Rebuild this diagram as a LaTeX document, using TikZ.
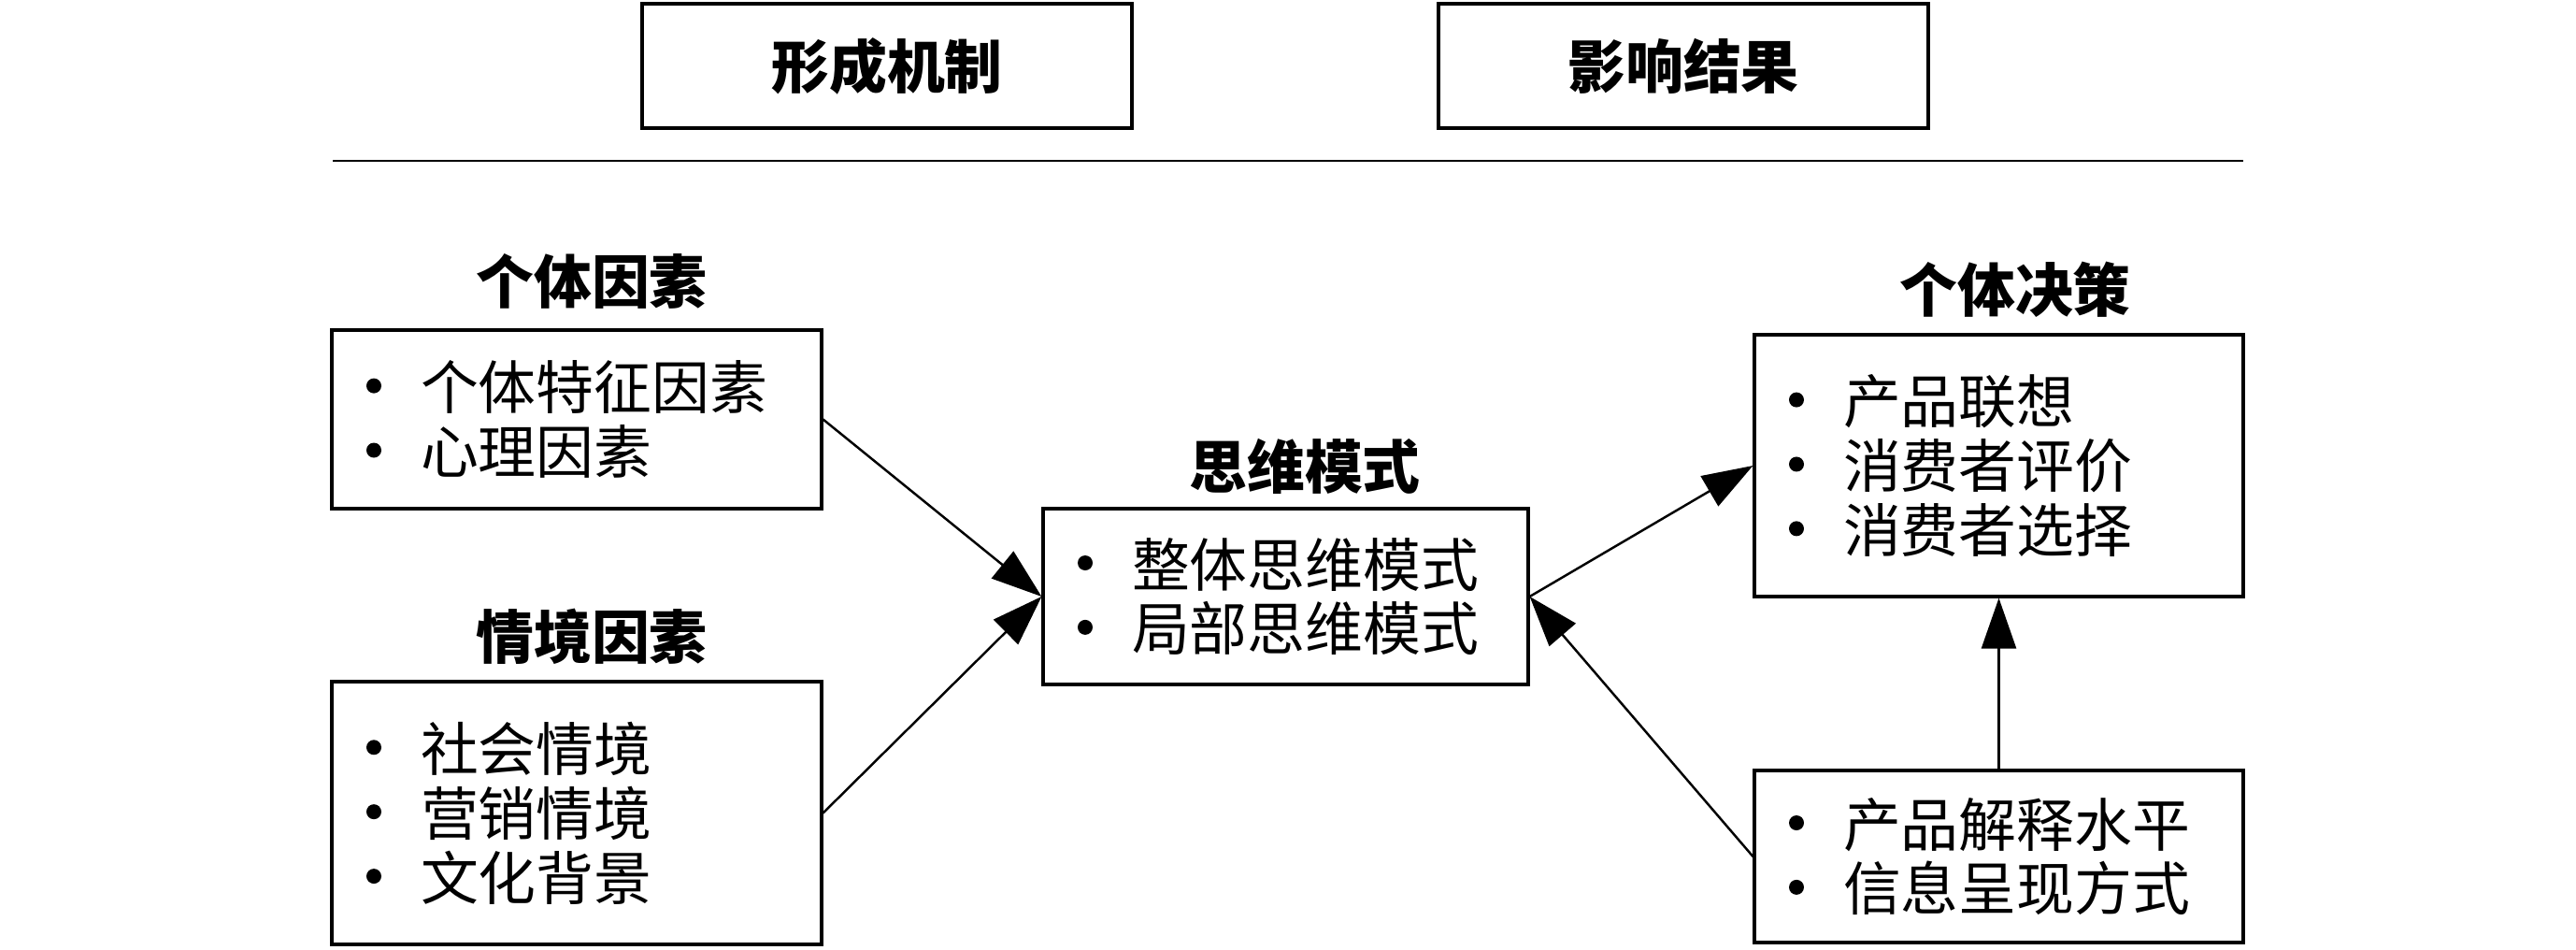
\documentclass[tikz,border=0pt]{standalone}
\usepackage{fontspec}
\setmainfont{Noto Sans CJK SC}
\usetikzlibrary{arrows.meta,positioning}
\tikzset{
  >={Triangle[length=0.54cm,width=0.37cm]},
}
\newcommand{\sz}{\fontsize{17.6pt}{19.6pt}\selectfont}
\newcommand{\bul}{\makebox[0.58cm][l]{\tikz[baseline=-0.25cm]\fill (0.08,0) circle (0.08);}}
\tikzstyle{every node}=[font=\sz]
\tikzstyle{box}=[draw,line width=0.9pt,minimum width=5.24cm,inner xsep=0.37cm,text width=4.5cm,align=left]
\tikzstyle{title}=[draw,line width=0.9pt,minimum width=5.24cm,minimum height=1.33cm,font=\sz\bfseries]
\tikzstyle{head}=[font=\sz\bfseries]
\tikzstyle{link}=[line width=0.7pt,->]

\begin{document}
\begin{tikzpicture}
    \useasboundingbox (0,0) rectangle (27.56,-10.16);
    % top row
    \node[title] (form) at (9.49,-0.705) {形成机制};
    \node[title] (result) at (18.01,-0.705) {影响结果};
    \draw[line width=0.8pt] (3.56,-1.72)--(24.0,-1.72);
    % left column
    \node[head] (indivhead) at (6.33,-3.01) {个体因素};
    \node[box,minimum height=1.91cm] (indiv) at (6.17,-4.485)
    {\bul 个体特征因素\\\bul 心理因素};
    \node[head] (situhead) at (6.33,-6.81) {情境因素};
    \node[box,minimum height=2.81cm] (situ) at (6.17,-8.695)
    {\bul 社会情境\\\bul 营销情境\\\bul 文化背景};
    % middle
    \node[head] (thinkhead) at (13.96,-4.99) {思维模式};
    \node[box,minimum width=5.19cm,text width=4.45cm,minimum height=1.88cm] (think) at (13.755,-6.38)
    {\bul 整体思维模式\\\bul 局部思维模式};
    % right column
    \node[head] (dechead) at (21.56,-3.10) {个体决策};
    \node[box,minimum width=5.23cm,text width=4.49cm,minimum height=2.80cm] (dec) at (21.385,-4.98)
    {\bul 产品联想\\\bul 消费者评价\\\bul 消费者选择};
    \node[box,minimum width=5.23cm,text width=4.49cm,minimum height=1.84cm] (cue) at (21.385,-9.16)
    {\bul 产品解释水平\\\bul 信息呈现方式};
    % arrows
    \draw[link] (indiv.east)--(think.west);
    \draw[link] (situ.east)--(think.west);
    \draw[link] (think.east)--(dec.west);
    \draw[link] (cue.west)--(think.east);
    \draw[link] (cue.north)--(dec.south);
\end{tikzpicture}
\end{document}
